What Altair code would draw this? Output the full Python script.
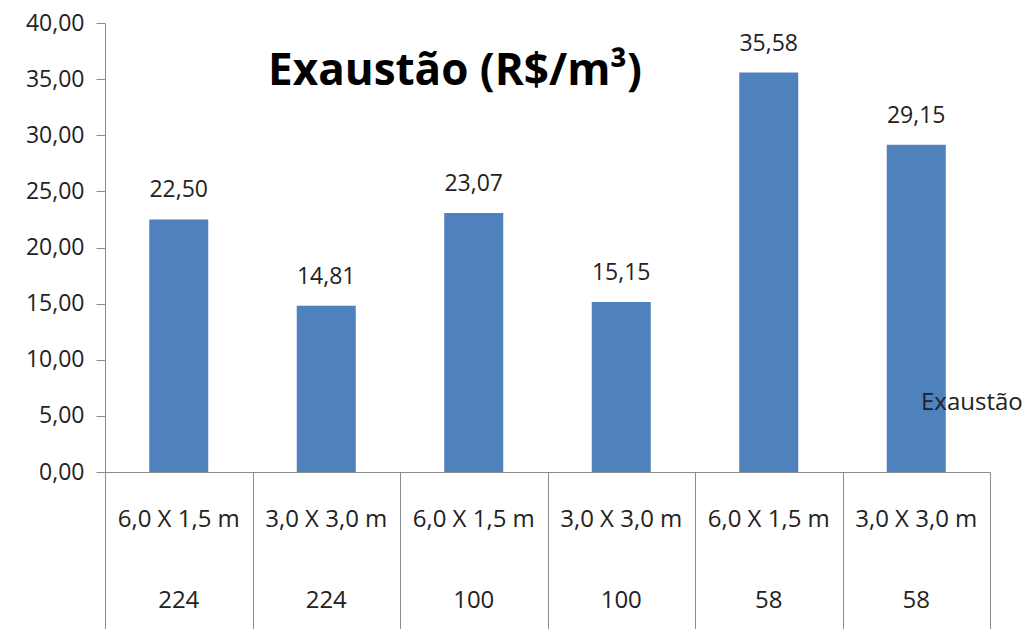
import altair as alt
import pandas as pd

ids = ["c1", "c2", "c3", "c4", "c5", "c6"]
sizes = ["6,0 X 1,5 m", "3,0 X 3,0 m", "6,0 X 1,5 m", "3,0 X 3,0 m", "6,0 X 1,5 m", "3,0 X 3,0 m"]
groups = ["224", "224", "100", "100", "58", "58"]
values = [22.50, 14.81, 23.07, 15.15, 35.58, 29.15]
series_name = "Exaustão"
title_text = "Exaustão (R$/m³)"

df = pd.DataFrame({"id": ids, "size": sizes, "group": groups, "value": values})

FONT = "Open Sans"
GRAY = "#8C8C8C"
W, H = 885, 449

x = alt.X("id:N", sort=ids, title=None,
          scale=alt.Scale(paddingInner=0, paddingOuter=0),
          axis=alt.Axis(labels=False, domain=True, domainColor=GRAY, ticks=True,
                        tickBand="extent", tickSize=157, tickColor=GRAY, grid=False))
y = alt.Y("value:Q", title=None,
          scale=alt.Scale(domain=[0, 40], nice=False),
          axis=alt.Axis(values=[0, 5, 10, 15, 20, 25, 30, 35, 40],
                        labelExpr="replace(format(datum.value, '.2f'), '.', ',')",
                        labelFont=FONT, labelFontSize=23, labelColor="#222222",
                        labelPadding=12, tickSize=9, tickColor=GRAY,
                        domainColor=GRAY, grid=False))

base = alt.Chart(df)

bars = base.mark_bar(color="#4F81BD", width=alt.RelativeBandSize(0.4)).encode(x=x, y=y)

labels = base.mark_text(font=FONT, fontSize=23, color="#222222", dy=-22,
                        baseline="alphabetic").encode(
    x=alt.X("id:N", sort=ids),
    y="value:Q",
    text=alt.Text("label:N"),
).transform_calculate(label="replace(format(datum.value, '.2f'), '.', ',')")

size_txt = base.mark_text(font=FONT, fontSize=24, color="#222222", baseline="middle").encode(
    x=alt.X("id:N", sort=ids), y=alt.value(497), text="size:N")
group_txt = base.mark_text(font=FONT, fontSize=24, color="#222222", baseline="middle").encode(
    x=alt.X("id:N", sort=ids), y=alt.value(578), text="group:N")

title_df = pd.DataFrame({"t": [title_text]})
title = alt.Chart(title_df).mark_text(font=FONT, fontSize=44, fontWeight="bold",
                                      color="#000000", baseline="middle").encode(
    x=alt.value(350), y=alt.value(49), text="t:N")

legend_df = pd.DataFrame({"t": [series_name]})
legend = alt.Chart(legend_df).mark_text(font=FONT, fontSize=24, color="#222222",
                                        align="left", baseline="middle").encode(
    x=alt.value(816), y=alt.value(380), text="t:N")

chart = alt.layer(bars, labels, size_txt, group_txt, title, legend).properties(
    width=W, height=H,
    autosize=alt.AutoSizeParams(type="none"),
    padding={"left": 105, "top": 23, "right": 38, "bottom": 157},
    background="white",
).configure_view(stroke=None)

chart.save("out.html", embed_options={"renderer": "svg", "actions": False})
